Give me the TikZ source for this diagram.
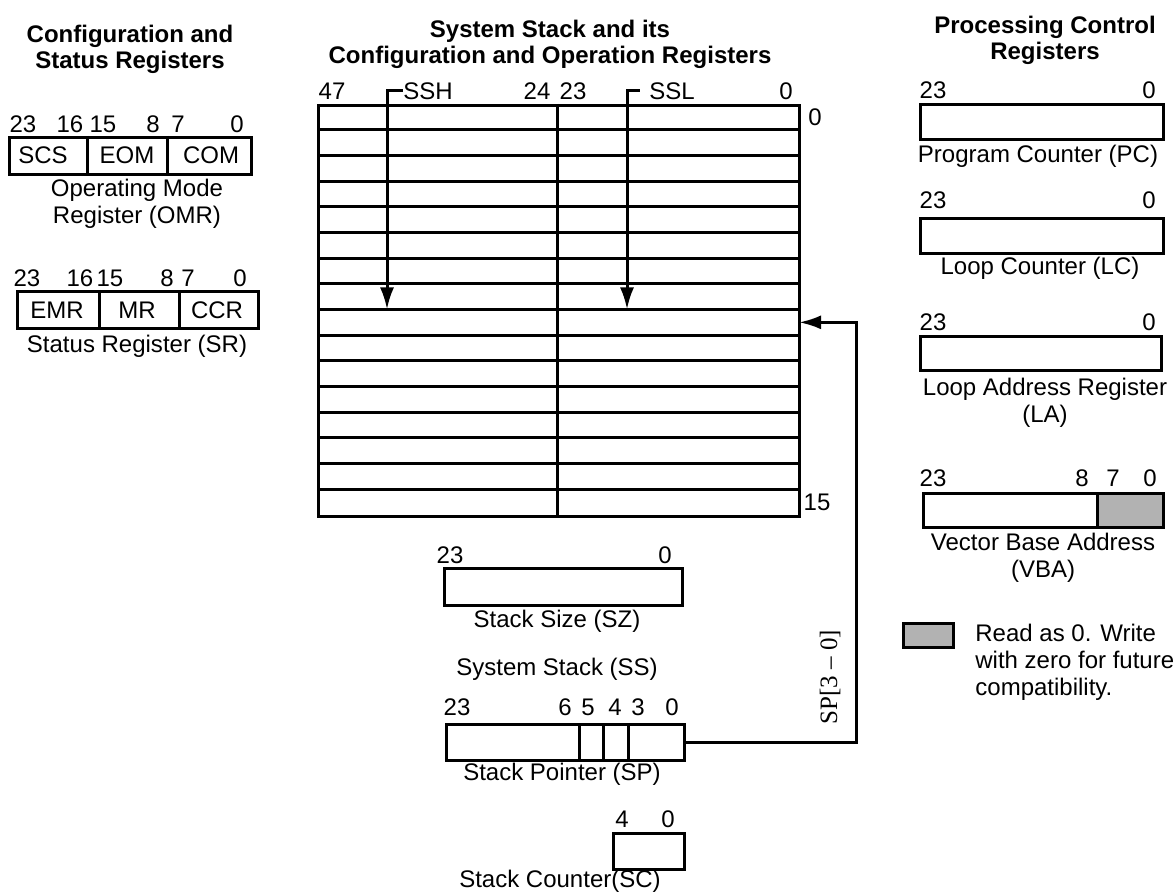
\documentclass[tikz,border=0pt]{standalone}
\usepackage{fontspec}
\setmainfont{Liberation Sans}
\newfontfamily\timesface{Liberation Serif}
\usepackage{tikz}
\usetikzlibrary{arrows.meta}
\usetikzlibrary{positioning}
\colorlet{rsvgray}{black!30}

\begin{document}
\begin{tikzpicture}[
  x=0.5pt, y=-0.5pt,
  every node/.style={font=\fontsize{12}{13.5}\selectfont, inner sep=0pt},
  lbl/.style={text depth=0pt},
  ttl/.style={font=\fontsize{12}{13}\selectfont\bfseries, align=center},
  regcap/.style={align=center},
  reg/.style={draw, line width=1.5pt, anchor=north west},
  regline/.style={line width=1.5pt},
  >={Latex[length=11pt,width=7pt]}
]
  \useasboundingbox (0,0) rectangle (1176,892);

  % left column
  \node[ttl] (ttlcfg) at (130,49) {Configuration and\\Status Registers};

  \node[reg, minimum width=121pt, minimum height=18.5pt] (omr) at (8,136) {};
  \draw[regline] (87,136) -- (87,173);
  \draw[regline] (167,136) -- (167,173);
  \foreach \b/\x in {23/23,16/70,15/103,8/153,7/178,0/237}
    \node[lbl] (omrb\b) at (\x,124) {\b};
  \node[lbl] (scs) at (43,155) {SCS};
  \node[lbl] (eom) at (127,155) {EOM};
  \node[lbl] (com) at (211,155) {COM};
  \node[regcap] (omrcap) at (137,204) {Operating Mode\\Register (OMR)};

  \node[reg, minimum width=120.5pt, minimum height=18.5pt] (sr) at (16,290) {};
  \draw[regline] (99,290) -- (99,327);
  \draw[regline] (179,290) -- (179,327);
  \foreach \b/\x in {23/27,16/80,15/110,8/167,7/188,0/240}
    \node[lbl] (srb\b) at (\x,278) {\b};
  \node[lbl] (emr) at (57,310) {EMR};
  \node[lbl] (mr) at (137,310) {MR};
  \node[lbl] (ccr) at (217,310) {CCR};
  \node[lbl] (srcap) at (137,344) {Status Register (SR)};

  % system stack
  \node[ttl] (ttlss) at (550,44) {System Stack and its\\Configuration and Operation Registers};

  \node[reg, minimum width=240.5pt, minimum height=205.5pt] (ss) at (317,104) {};
  \foreach \k in {1,...,15}
    \draw[regline] (317,{104+\k*25.6875}) -- (798,{104+\k*25.6875});
  \draw[regline] (557,104) -- (557,515);
  \foreach \b/\x in {47/332,24/537,23/573,0/786}
    \node[lbl] (ssb\b) at (\x,91) {\b};
  \node[lbl] (sshl) at (428,91) {SSH};
  \node[lbl] (ssll) at (672,91) {SSL};
  \node[lbl] (row0) at (815,117) {0};
  \node[lbl] (row15) at (817,502) {15};

  \coordinate (sshtip) at (387,{104+8*25.6875});
  \coordinate (ssltip) at (627,{104+8*25.6875});
  \coordinate (sptr) at (799,{104+8.5*25.6875});
  \draw[regline,->] (sshl.west) -| (sshtip);
  \draw[regline,->,shorten <=4.5pt] (ssll.west) -| (ssltip);

  \node[reg, minimum width=119pt, minimum height=18.5pt] (sz) at (443,567) {};
  \node[lbl] (szb23) at (450,555) {23};
  \node[lbl] (szb0) at (665,555) {0};
  \node[lbl] (szcap) at (557,619) {Stack Size (SZ)};
  \node[lbl] (sscap) at (557,667) {System Stack (SS)};

  \node[reg, minimum width=119pt, minimum height=18pt] (sp) at (445,723) {};
  \draw[regline] (579,723) -- (579,759);
  \draw[regline] (603,723) -- (603,759);
  \draw[regline] (628,723) -- (628,759);
  \foreach \b/\x in {23/457,6/565,5/588,4/615,3/638,0/672}
    \node[lbl] (spb\b) at (\x,707) {\b};
  \node[lbl] (spcap) at (562,772) {Stack Pointer (SP)};

  \draw[regline,->] (sp.east) -- ++(170,0) |- (sptr);
  \node[rotate=90, font=\timesface\fontsize{12.5}{14}\selectfont] (spbits) at (830,677) {SP[3 – 0]};

  \node[reg, minimum width=35.5pt, minimum height=18pt] (sc) at (612,832) {};
  \node[lbl] (scb4) at (622,819) {4};
  \node[lbl] (scb0) at (668,819) {0};
  \node[lbl] (sccap) at (560,879) {Stack Counter(SC)};

  % right column
  \node[ttl] (ttlpc) at (1045,40) {Processing Control\\Registers};

  \node[reg, minimum width=121.5pt, minimum height=17.5pt] (pc) at (919,103) {};
  \node[lbl] (pcb23) at (933,90) {23};
  \node[lbl] (pcb0) at (1149,90) {0};
  \node[lbl] (pccap) at (1038,154) {Program Counter (PC)};

  \node[reg, minimum width=121.5pt, minimum height=17.5pt] (lc) at (919,217) {};
  \node[lbl] (lcb23) at (933,200) {23};
  \node[lbl] (lcb0) at (1149,200) {0};
  \node[lbl] (lccap) at (1040,266) {Loop Counter (LC)};

  \node[reg, minimum width=120.5pt, minimum height=17pt] (la) at (919,335) {};
  \node[lbl] (lab23) at (933,322) {23};
  \node[lbl] (lab0) at (1149,322) {0};
  \node[regcap] (lacap) at (1045,403) {Loop Address Register\\(LA)};

  \fill[rsvgray] (1097,492) rectangle (1162,526);
  \node[reg, minimum width=120pt, minimum height=17pt] (vba) at (922,492) {};
  \draw[regline] (1097,492) -- (1097,526);
  \foreach \b/\x in {23/933,8/1082,7/1113,0/1150}
    \node[lbl] (vbab\b) at (\x,478) {\b};
  \node[regcap] (vbacap) at (1043,558) {Vector Base Address\\(VBA)};

  % legend
  \node[reg, fill=rsvgray, minimum width=25pt, minimum height=12pt] (key) at (902,622) {};
  \node[anchor=west, align=left] (note) at (975,662) {Read as 0. Write\\with zero for future\\compatibility.};
\end{tikzpicture}
\end{document}
